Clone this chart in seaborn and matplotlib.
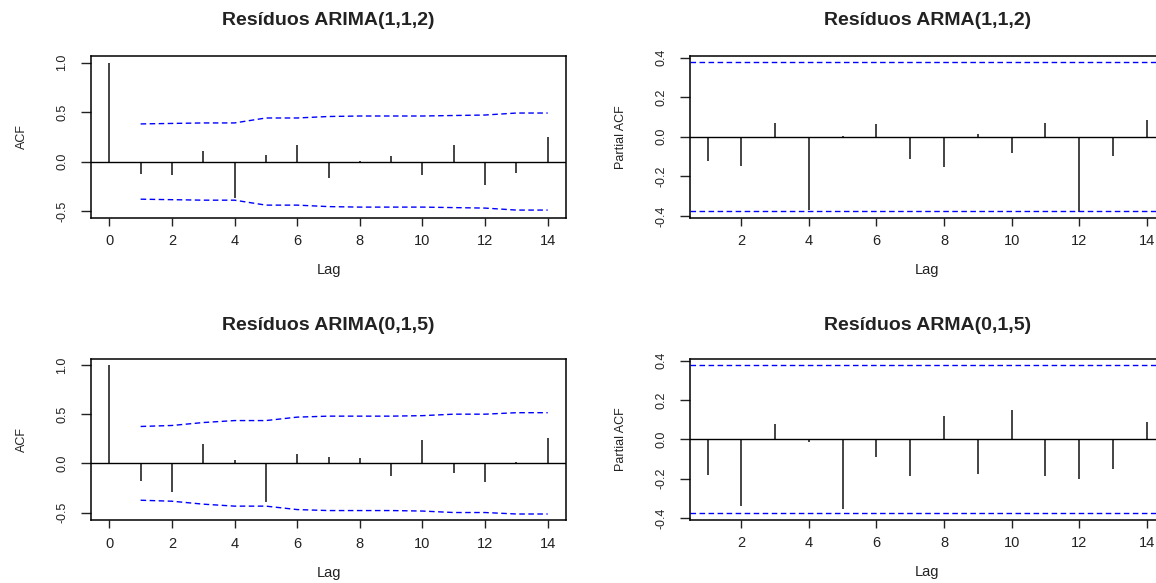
import matplotlib
matplotlib.use("Agg")
import matplotlib.pyplot as plt
import seaborn as sns
import pandas as pd

# Lags
lags_acf = list(range(0, 15))
lags_ci = list(range(1, 15))

# Residuos ARIMA(1,1,2)
acf_112 = [1.0, -0.125, -0.135, 0.11, -0.37, 0.07, 0.17, -0.17, 0.003, 0.055,
           -0.14, 0.17, -0.24, -0.115, 0.25]
ci_acf_112 = [0.38, 0.385, 0.39, 0.39, 0.44, 0.44, 0.455, 0.46, 0.46, 0.46,
              0.465, 0.47, 0.49, 0.49]
pacf_112 = [-0.12, -0.15, 0.07, -0.37, 0.005, 0.066, -0.11, -0.155, 0.015,
            -0.082, 0.07, -0.378, -0.097, 0.086]

# Residuos ARIMA(0,1,5)
acf_015 = [1.0, -0.176, -0.288, 0.2, 0.037, -0.39, 0.095, 0.068, 0.058, -0.125,
           0.234, -0.1, -0.193, 0.017, 0.254]
ci_acf_015 = [0.375, 0.385, 0.415, 0.435, 0.435, 0.47, 0.48, 0.48, 0.48, 0.485,
              0.5, 0.5, 0.515, 0.515]
pacf_015 = [-0.18, -0.338, 0.078, -0.013, -0.355, -0.092, -0.188, 0.117, -0.175,
            0.147, -0.188, -0.2, -0.15, 0.09]

ci_pacf = 0.377

titles = ["Resíduos ARIMA(1,1,2)", "Resíduos ARMA(1,1,2)",
          "Resíduos ARIMA(0,1,5)", "Resíduos ARMA(0,1,5)"]

sns.set_theme(style="white")
plt.rcParams['font.family'] = ['Liberation Sans', 'DejaVu Sans']

W, H = 1156, 583
fig = plt.figure(figsize=(W / 100, H / 100), dpi=100)


def add_box(left, right, top, bottom):
    return fig.add_axes([left / W, (H - bottom) / H, (right - left) / W, (bottom - top) / H])


def style(ax, title, ylabel, title_off, w_px, h_px):
    for s in ax.spines.values():
        s.set_color("black")
        s.set_linewidth(1.1)
    ax.tick_params(axis="x", direction="out", length=5.4, width=1, pad=6.5,
                   labelsize=10.5, colors="#222222", bottom=True)
    ax.tick_params(axis="y", direction="out", length=7.5, width=1, pad=9,
                   labelsize=9, colors="#222222", left=True)
    for lab in ax.get_yticklabels():
        lab.set_rotation(90)
        lab.set_va("center")
    ax.set_title(title, fontsize=14, fontweight="bold", y=1 + title_off / h_px,
                 va="center", pad=0, color="#222222")
    ax.set_xlabel("Lag", fontsize=10.5, color="#222222")
    ax.xaxis.set_label_coords(0.5, -52.5 / h_px)
    ax.xaxis.label.set_va("center")
    ax.set_ylabel(ylabel, fontsize=9, color="#222222")
    ax.yaxis.set_label_coords(-69 / w_px, 0.5)
    ax.yaxis.label.set_va("center")
    ax.grid(False)


def acf_panel(ax, vals, ci, title, ylim, title_off, w_px, h_px):
    ax.vlines(lags_acf, 0, vals, color="#111111", lw=1.1)
    ax.axhline(0, color="black", lw=1.0)
    ci_df = pd.DataFrame({"Lag": lags_ci, "up": ci, "lo": [-c for c in ci]})
    sns.lineplot(data=ci_df, x="Lag", y="up", ax=ax, color="blue", lw=1.0,
                 linestyle=(0, (4, 2.5)))
    sns.lineplot(data=ci_df, x="Lag", y="lo", ax=ax, color="blue", lw=1.0,
                 linestyle=(0, (4, 2.5)))
    ax.set_xlim(-0.585, 14.585)
    ax.set_ylim(*ylim)
    ax.set_xticks(range(0, 15, 2))
    ax.set_yticks([-0.5, 0.0, 0.5, 1.0])
    ax.set_yticklabels(["-0.5", "0.0", "0.5", "1.0"])
    style(ax, title, "ACF", title_off, w_px, h_px)


def pacf_panel(ax, vals, title, title_off, w_px, h_px):
    ax.vlines(lags_ci, 0, vals, color="#111111", lw=1.1)
    ax.axhline(0, color="black", lw=1.0)
    ax.axhline(ci_pacf, color="blue", lw=1.0, linestyle=(0, (4, 2.5)))
    ax.axhline(-ci_pacf, color="blue", lw=1.0, linestyle=(0, (4, 2.5)))
    ax.set_xlim(0.49, 14.51)
    ax.set_ylim(-0.408, 0.408)
    ax.set_xticks(range(2, 15, 2))
    ax.set_yticks([-0.4, -0.2, 0.0, 0.2, 0.4])
    ax.set_yticklabels(["-0.4", "-0.2", "0.0", "0.2", "0.4"])
    style(ax, title, "Partial ACF", title_off, w_px, h_px)


ax1 = add_box(91, 566, 56, 217.5)
acf_panel(ax1, acf_112, ci_acf_112, titles[0], (-0.565, 1.066), 35.5, 475, 161.5)

ax2 = add_box(690.3, 1164, 56, 217.5)
pacf_panel(ax2, pacf_112, titles[1], 35.5, 473.7, 161.5)

ax3 = add_box(91, 566, 359, 520)
acf_panel(ax3, acf_015, ci_acf_015, titles[2], (-0.576, 1.061), 34, 475, 161)

ax4 = add_box(690.3, 1164, 359, 519.5)
pacf_panel(ax4, pacf_015, titles[3], 34, 473.7, 160.5)

fig.savefig("out.png", dpi=100)
